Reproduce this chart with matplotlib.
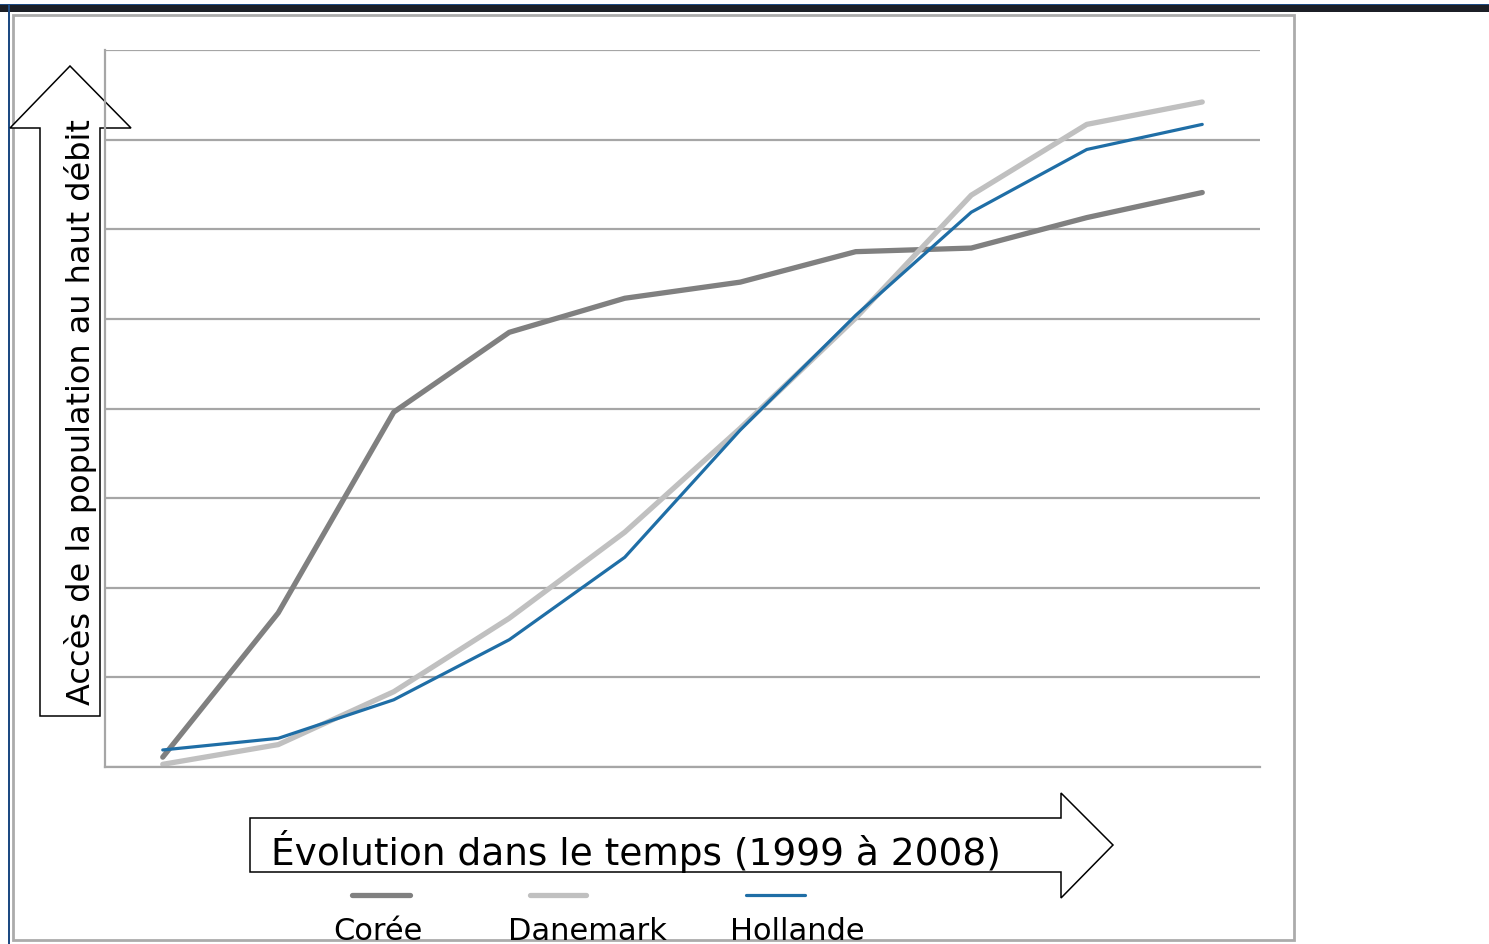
"""Accès au haut débit : Corée, Danemark, Hollande (1999 à 2008)."""
import matplotlib
matplotlib.use("Agg")
import matplotlib.pyplot as plt
from matplotlib.patches import Polygon, Rectangle
from matplotlib.lines import Line2D

W, H = 1489, 944

years = list(range(1999, 2009 + 1))[:10]
coree = [0.11, 1.72, 3.96, 4.85, 5.23, 5.41, 5.75, 5.79, 6.13, 6.41]
danemark = [0.03, 0.25, 0.84, 1.66, 2.62, 3.78, 5.01, 6.38, 7.17, 7.42]
hollande = [0.19, 0.32, 0.75, 1.42, 2.34, 3.76, 5.04, 6.19, 6.89, 7.17]

series = ["Corée", "Danemark", "Hollande"]
colors = ["#808080", "#c0c0c0", "#1f6ea6"]
widths = [3.8, 3.8, 2.3]

ylabel = "Accès de la population au haut débit"
xlabel = "Évolution dans le temps (1999 à 2008)"


def px(x, y):
    return (x / W, 1 - y / H)


fig = plt.figure(figsize=(W / 100, H / 100), dpi=100)
fig.patch.set_facecolor("white")

# cadre de la diapo
fig.patches.append(Rectangle(px(0, 12), 1, 8 / H, transform=fig.transFigure,
                             facecolor="#1c1f26", edgecolor="none", zorder=-5))
fig.patches.append(Rectangle(px(0, 5), 1, 1.5 / H, transform=fig.transFigure,
                             facecolor="#1d4a82", edgecolor="none", zorder=-4))
fig.patches.append(Rectangle(px(8, H), 2.2 / W, (H - 5) / H, transform=fig.transFigure,
                             facecolor="#1d4a82", edgecolor="none", zorder=-4))
x0, y0 = px(13, 940)
x1, y1 = px(1294, 15)
fig.patches.append(Rectangle((x0, y0), x1 - x0, y1 - y0, transform=fig.transFigure,
                             facecolor="none", edgecolor="#ababab", lw=2.0, zorder=-3))

# flèches
up = [(40, 716), (40, 128), (10, 128), (70, 66), (131, 128), (100, 128), (100, 716)]
right = [(250, 818), (1061, 818), (1061, 793), (1113, 845), (1061, 898), (1061, 872), (250, 872)]
for pts in (up, right):
    fig.patches.append(Polygon([px(*p) for p in pts], closed=True, transform=fig.transFigure,
                               facecolor="white", edgecolor="black", lw=1.1, zorder=-2))

ax = fig.add_axes([105 / W, 1 - 767 / H, (1260 - 105) / W, (767 - 50) / H])
ax.set_facecolor("none")
ax.set_xlim(-0.5, 9.5)
ax.set_ylim(0, 8)
ax.set_yticks(range(0, 9))
ax.set_xticks([])
ax.tick_params(left=False, labelleft=False)
ax.grid(axis="y", color="#a6a6a6", lw=1.6)
ax.set_axisbelow(True)
for s in ("top", "right"):
    ax.spines[s].set_visible(False)
for s in ("left", "bottom"):
    ax.spines[s].set_color("#a6a6a6")
    ax.spines[s].set_linewidth(1.6)

xs = range(len(coree))
for vals, c, lw in zip([coree, danemark, hollande], colors, widths):
    ax.plot(xs, vals, color=c, lw=lw, solid_capstyle="round", solid_joinstyle="round")

fig.text(*px(81, 412), ylabel, rotation=90, ha="center", va="center",
         fontsize=23, color="black")
fig.text(*px(271, 865), xlabel, ha="left", va="baseline", fontsize=27, color="black")

# légende
leg_x = [(352, 410), (530, 586), (746, 805)]
lab_x = [378, 587, 797]
for (a, b), lx, name, c, lw in zip(leg_x, lab_x, series, colors, widths):
    fig.add_artist(Line2D([a / W, b / W], [1 - 895 / H] * 2, color=c,
                          lw=lw, solid_capstyle="round"))
    fig.text(*px(lx, 940), name, ha="center", va="baseline", fontsize=22)

fig.savefig("out.png", dpi=100)
